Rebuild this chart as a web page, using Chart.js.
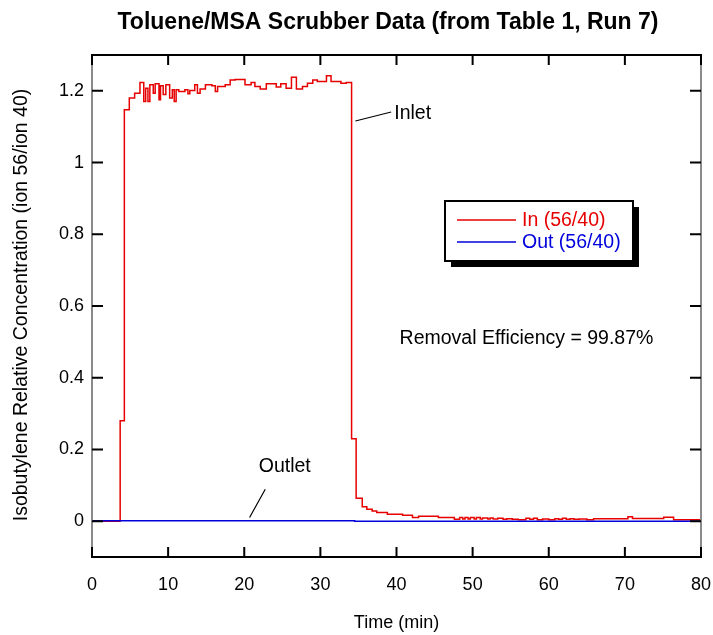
<!DOCTYPE html>
<html><head><meta charset="utf-8">
<script src="https://cdn.jsdelivr.net/npm/chart.js@4/dist/chart.umd.min.js"></script>
<style>html,body{margin:0;padding:0;background:#fff}#wrap{width:713px;height:635px}</style>
</head><body><div id="wrap"><canvas id="c" width="713" height="635"></canvas></div>
<script>
// ---- data ----
const inTimes = [0, 3.7, 4.25, 4.9, 5.6, 6.3, 6.8, 7.05, 7.35, 7.6, 8.05, 8.3, 8.8, 9.0, 9.35, 9.7, 10.2, 10.55, 10.8, 11.05, 11.4, 12.2, 12.6, 12.85, 13.5, 13.85, 14.2, 14.9, 15.75, 16.2, 16.5, 17.5, 18.15, 18.8, 20.1, 20.9, 21.4, 22.1, 22.9, 24.2, 24.8, 25.5, 26.2, 26.85, 27.65, 28.3, 29.0, 29.6, 30.8, 31.4, 32.7, 33.4,
  34.1, 34.7, 35.5, 36.1, 36.8, 37.4, 38.8, 40.8, 42.1, 42.9, 45.5, 47.6, 48.3, 48.7, 49.0, 49.4, 49.7, 50.2, 50.5, 51.0, 51.3, 52.0, 52.3, 52.7, 53.3, 54.0, 54.5, 55.2, 56.0, 57.0, 57.5, 58.0, 58.5, 59.2, 60.0, 60.8, 61.3, 61.8, 62.3, 62.8, 63.3, 64.0, 65.0, 65.9, 70.4, 71.0, 75.1, 76.4, 80];
const inValues = [0, 0.28, 1.147, 1.180, 1.193, 1.223, 1.170, 1.207, 1.170, 1.217, 1.193, 1.220, 1.175, 1.214, 1.190, 1.217, 1.180, 1.203, 1.170, 1.203, 1.198, 1.203, 1.192, 1.201, 1.217, 1.193, 1.205, 1.217, 1.214, 1.198, 1.212, 1.217, 1.230, 1.232, 1.217, 1.223, 1.212, 1.205, 1.220, 1.211, 1.220, 1.207, 1.238, 1.205, 1.212, 1.221, 1.230, 1.226, 1.242, 1.226, 1.221, 1.223,
  0.230, 0.064, 0.040, 0.033, 0.028, 0.024, 0.0195, 0.0165, 0.010, 0.0135, 0.010, 0.0055, 0.010, 0.006, 0.010, 0.006, 0.010, 0.006, 0.010, 0.006, 0.009, 0.006, 0.009, 0.006, 0.008, 0.005, 0.007, 0.005, 0.004, 0.008, 0.005, 0.008, 0.004, 0.006, 0.004, 0.007, 0.005, 0.008, 0.005, 0.007, 0.005, 0.006, 0.004, 0.007, 0.012, 0.0075, 0.011, 0.004, 0.004];
const outTimes = [0, 34.5, 80];
const outValues = [0.001, 0, 0];
const xTicks = [0, 10, 20, 30, 40, 50, 60, 70, 80];
const yTicks = [0, 0.2, 0.4, 0.6, 0.8, 1, 1.2];
const seriesNames = ['In (56/40)', 'Out (56/40)'];
const titleText = 'Toluene/MSA Scrubber Data (from Table 1, Run 7)';
const xTitle = 'Time (min)';
const yTitle = 'Isobutylene Relative Concentration (ion 56/ion 40)';

const RED = '#e60000', BLUE = '#0000dd';
const FONT = "'Liberation Sans', Arial, Helvetica, sans-serif";

const toPts = (xs, ys) => xs.map((x, i) => ({x, y: ys[i]}));

const decor = {
  id: 'decor',
  afterDatasetsDraw(chart) {
    const {ctx, chartArea: a, scales: {x, y}} = chart;
    ctx.save();
    ctx.lineWidth = 2;
    ctx.strokeStyle = '#8a8a8a';
    ctx.beginPath(); ctx.moveTo(a.left, a.top); ctx.lineTo(a.left, a.bottom);
    ctx.moveTo(a.right, a.top); ctx.lineTo(a.right, a.bottom); ctx.stroke();
    ctx.strokeStyle = '#000';
    ctx.beginPath(); ctx.moveTo(a.left - 1, a.top); ctx.lineTo(a.right + 1, a.top);
    ctx.moveTo(a.left - 1, a.bottom); ctx.lineTo(a.right + 1, a.bottom); ctx.stroke();
    ctx.lineWidth = 2;
    ctx.beginPath();
    xTicks.forEach(v => { const p = x.getPixelForValue(v);
      ctx.moveTo(p, a.bottom); ctx.lineTo(p, a.bottom - 10);
      ctx.moveTo(p, a.top); ctx.lineTo(p, a.top + 10); });
    yTicks.forEach(v => { const p = y.getPixelForValue(v);
      ctx.moveTo(a.left, p); ctx.lineTo(a.left + 11, p);
      ctx.moveTo(a.right, p); ctx.lineTo(a.right - 11, p); });
    ctx.stroke();
    ctx.restore();
  },
  afterDraw(chart) {
    const {ctx, chartArea: a, scales: {x, y}} = chart;
    ctx.save();
    ctx.fillStyle = '#000';
    ctx.font = 'bold 23px ' + FONT;
    ctx.textAlign = 'center'; ctx.textBaseline = 'middle';
    ctx.fillText(titleText, 388, 23);
    ctx.font = '18px ' + FONT;
    ctx.fillText(xTitle, (a.left + a.right) / 2, 623);
    ctx.save();
    ctx.translate(22, 305); ctx.rotate(-Math.PI / 2);
    ctx.font = '19.5px ' + FONT;
    ctx.fillText(yTitle, 0, 0);
    ctx.restore();
    ctx.font = '19.5px ' + FONT;
    ctx.textAlign = 'left';
    ctx.strokeStyle = '#000'; ctx.lineWidth = 1.2;
    ctx.beginPath();
    ctx.moveTo(x.getPixelForValue(34.6), y.getPixelForValue(1.116));
    ctx.lineTo(x.getPixelForValue(39.3), y.getPixelForValue(1.141));
    ctx.moveTo(x.getPixelForValue(20.7), y.getPixelForValue(0.010));
    ctx.lineTo(x.getPixelForValue(22.76), y.getPixelForValue(0.089));
    ctx.stroke();
    ctx.fillText('Inlet', x.getPixelForValue(39.7), y.getPixelForValue(1.136));
    ctx.fillText('Outlet', x.getPixelForValue(21.9), y.getPixelForValue(0.151));
    ctx.fillText('Removal Efficiency = 99.87%', x.getPixelForValue(40.4), y.getPixelForValue(0.509));
    const lx = 445, ly = 201, lw = 188, lh = 60;
    ctx.fillStyle = '#000';
    ctx.fillRect(lx + 6, ly + 6, lw, lh);
    ctx.fillStyle = '#fff';
    ctx.fillRect(lx, ly, lw, lh);
    ctx.lineWidth = 2; ctx.strokeStyle = '#000';
    ctx.strokeRect(lx, ly, lw, lh);
    const rows = [[seriesNames[0], RED, ly + 19], [seriesNames[1], BLUE, ly + 41]];
    rows.forEach(([t, c, yy]) => {
      ctx.strokeStyle = c; ctx.lineWidth = 1.3;
      ctx.beginPath(); ctx.moveTo(lx + 12, yy); ctx.lineTo(lx + 71, yy); ctx.stroke();
      ctx.fillStyle = c; ctx.fillText(t, lx + 77, yy + 1);
    });
    ctx.restore();
  }
};

new Chart(document.getElementById('c'), {
  type: 'line',
  data: {
    datasets: [
      {label: seriesNames[0], data: toPts(inTimes, inValues), borderColor: RED, borderWidth: 1.5, stepped: true, pointRadius: 0, fill: false, order: 1},
      {label: seriesNames[1], data: toPts(outTimes, outValues), borderColor: BLUE, borderWidth: 1.5, stepped: true, pointRadius: 0, fill: false, order: 0}
    ]
  },
  options: {
    responsive: false, animation: false, devicePixelRatio: 1,
    layout: {padding: {left: 0, top: 55, right: 12, bottom: 0}},
    plugins: {legend: {display: false}, title: {display: false}, tooltip: {enabled: false}},
    scales: {
      x: {type: 'linear', min: 0, max: 80,
        afterBuildTicks: s => { s.ticks = xTicks.map(v => ({value: v})); },
        afterFit: s => { s.height = 78; s.paddingLeft = 0; s.paddingRight = 0; },
        grid: {display: false, drawTicks: false}, border: {display: false},
        ticks: {padding: 17, color: '#000', font: {family: FONT, size: 18}, maxRotation: 0, callback: v => String(v)}},
      y: {type: 'linear', min: -0.1, max: 1.3,
        afterBuildTicks: s => { s.ticks = yTicks.map(v => ({value: v})); },
        afterFit: s => { s.width = 92; s.paddingTop = 0; s.paddingBottom = 0; },
        grid: {display: false, drawTicks: false}, border: {display: false},
        ticks: {padding: 8, color: '#000', font: {family: FONT, size: 18}, callback: v => String(Math.round(v * 10) / 10)}}
    }
  },
  plugins: [decor]
});
</script>
</body></html>
